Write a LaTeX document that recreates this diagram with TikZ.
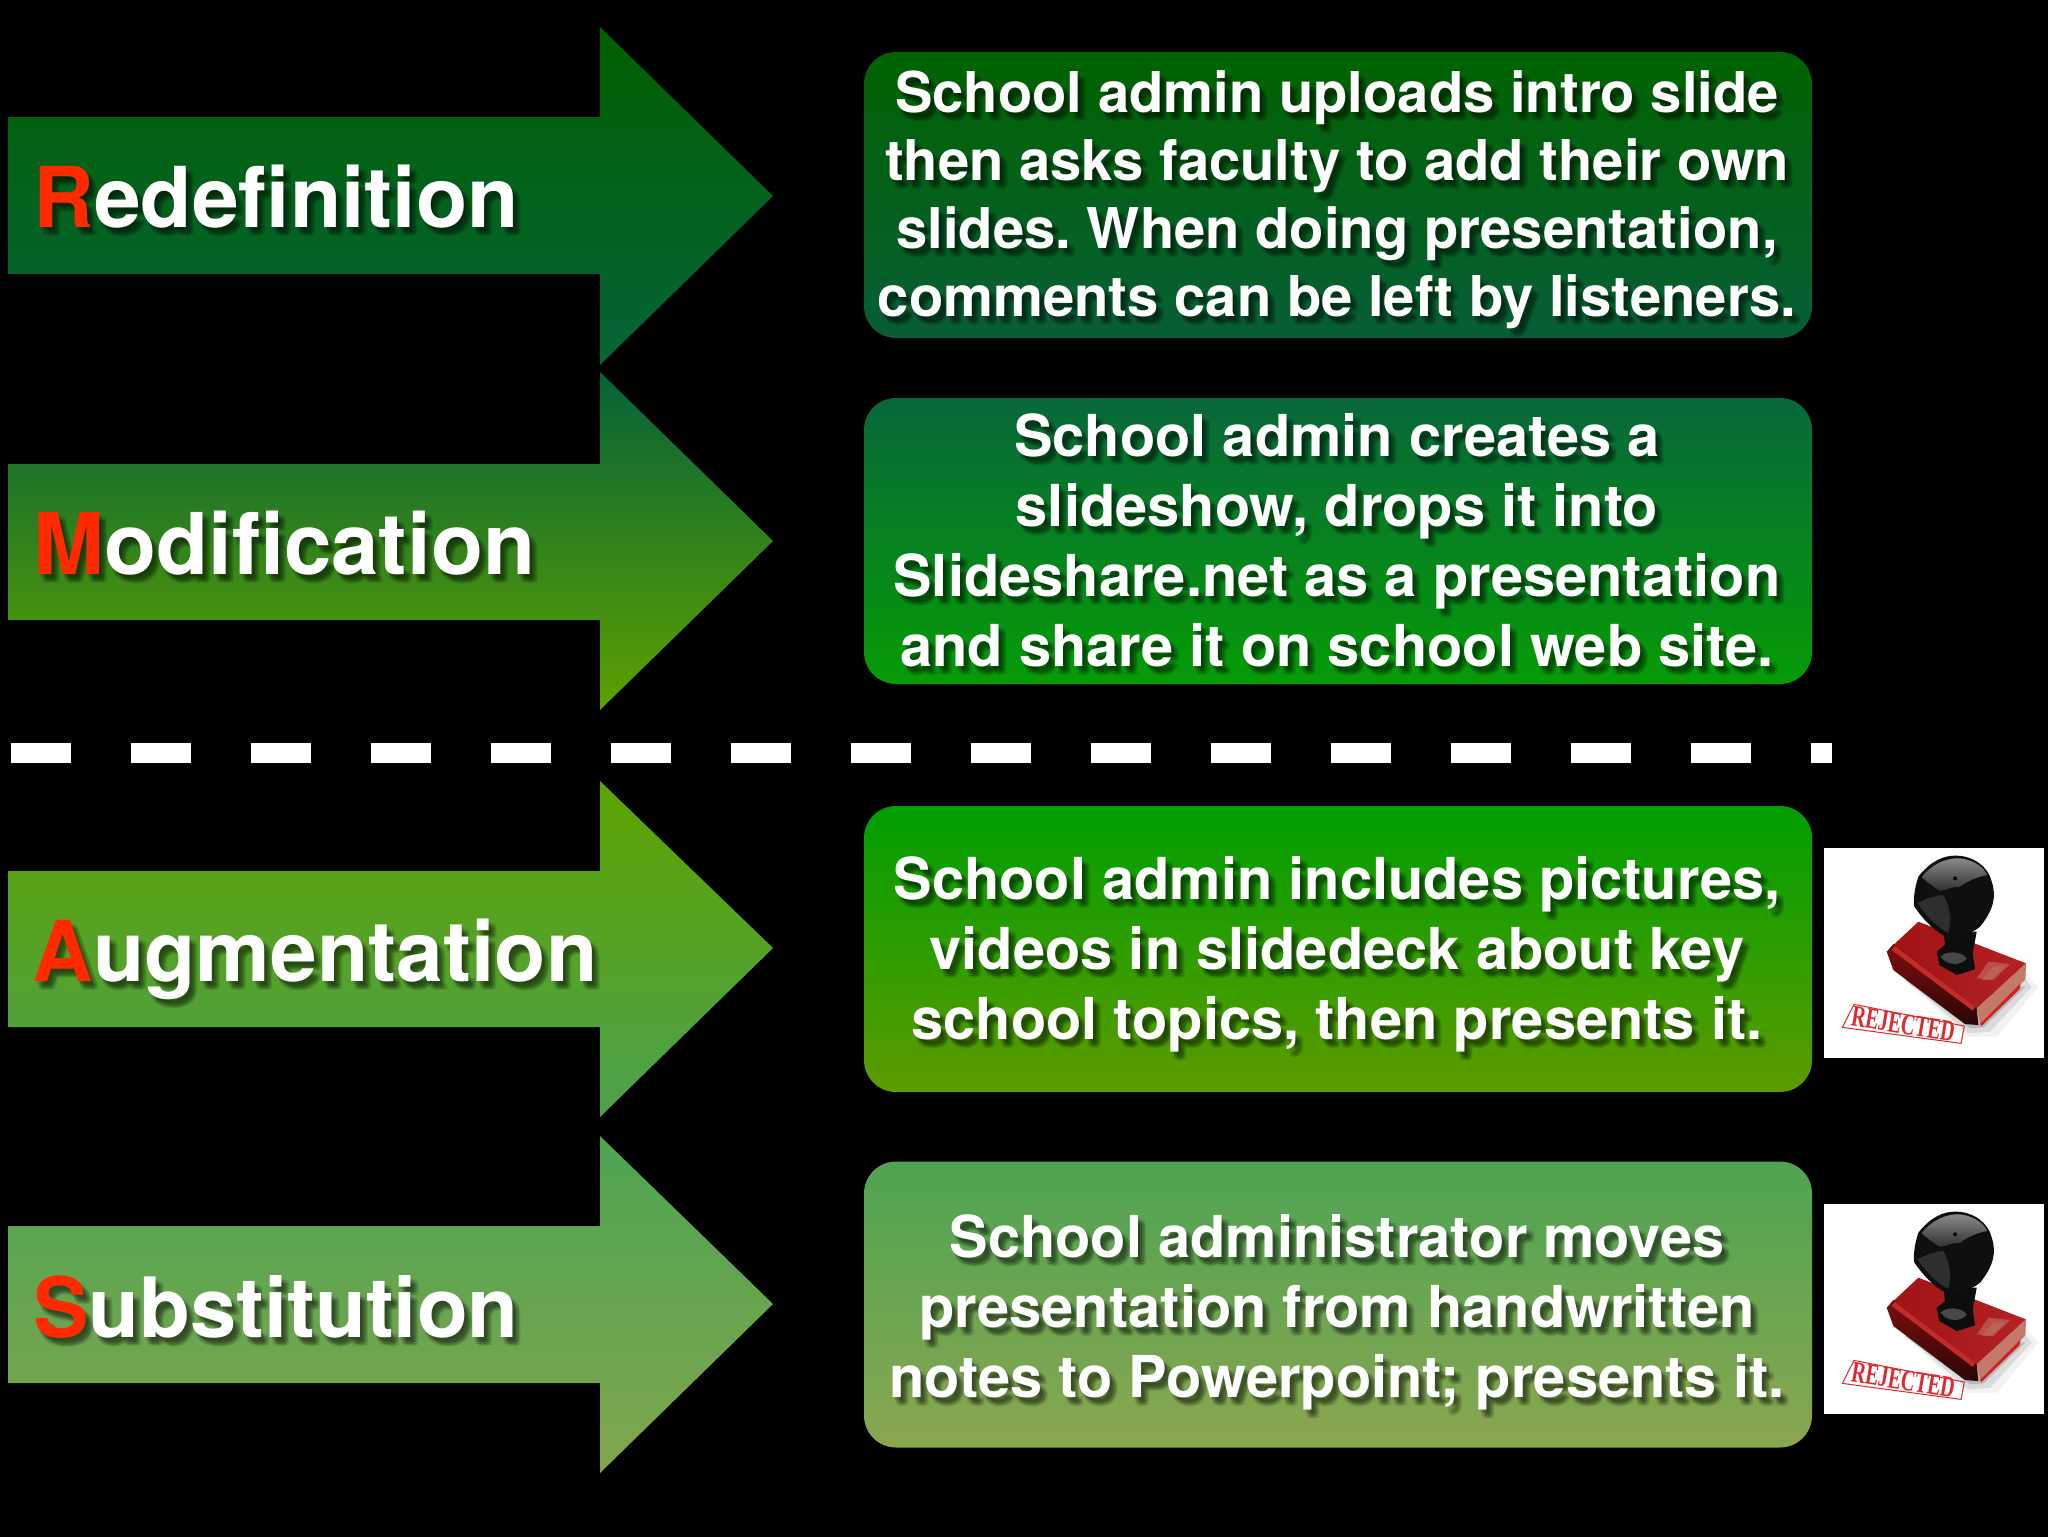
\documentclass[tikz,border=0pt]{standalone}
\usepackage{fontspec}
\setmainfont{TeX Gyre Heros}[BoldFont=* Bold]
\newfontfamily\stampfont{Liberation Serif}
\usetikzlibrary{shapes.geometric}
\def\fc{redletter}
\frenchspacing
\definecolor{redletter}{HTML}{FF2A00}
\definecolor{aRt}{RGB}{0,96,0}\definecolor{aRb}{RGB}{6,100,56}
\definecolor{aMt}{RGB}{5,98,56}\definecolor{aMb}{RGB}{93,162,0}
\definecolor{aAt}{RGB}{92,164,0}\definecolor{aAb}{RGB}{78,160,78}
\definecolor{aSt}{RGB}{78,164,82}\definecolor{aSb}{RGB}{128,166,78}
\definecolor{bRt}{RGB}{0,99,0}\definecolor{bRb}{RGB}{7,94,54}
\definecolor{bMt}{RGB}{7,104,58}\definecolor{bMb}{RGB}{6,156,6}
\definecolor{bAt}{RGB}{0,158,0}\definecolor{bAb}{RGB}{92,156,0}
\definecolor{bSt}{RGB}{78,164,82}\definecolor{bSb}{RGB}{138,166,80}
\definecolor{stampTopL}{HTML}{A01414}
\definecolor{stampTopR}{HTML}{B42222}
\definecolor{stampFace}{HTML}{7E0E0E}
\definecolor{stampEnd}{HTML}{C4796A}
\definecolor{stampLedge}{HTML}{D02020}
\definecolor{stampEdge}{HTML}{C42A2A}
\definecolor{stampInk}{HTML}{DC2A30}
\newcommand\rl[1]{\textcolor{\fc}{#1}}
\newcommand\lst{\rule[-7pt]{0pt}{27pt}}
\newcommand\shadowed[5]{% style, x, y, name, text
  \begingroup\def\fc{black}%
  \foreach \dx/\dy [count=\k] in {2/3,4/5,6/7,7/5,3/7,5/9,8/8}{%
    \node[#1,text=black,opacity=.10] (#4s\k) at ({#2+\dx},{#3+\dy}) {#5};}%
  \endgroup
  \node[#1] (#4) at (#2,#3) {#5};}
\newcommand\tf[1]{\fontsize{#1}{44}\selectfont\bfseries}
\tikzset{
  x=.5pt,y=-.5pt,
  titlelabel/.style={anchor=base west,inner sep=0pt,text=white},
  bodytext/.style={anchor=center,inner sep=0pt,text=white,align=center},
  infobox/.style={draw=none,rounded corners=16pt,minimum width=474pt,minimum height=143pt,inner sep=0pt,outer sep=0pt},
  divider/.style={draw=white,line width=10pt,dash pattern=on 30pt off 30pt},
  stampimg/.pic={
    \begin{scope}[x=.1667pt,y=-.1667pt,shift={(-132,-84)}]
    \fill[white] (132,84) rectangle (792,713);
    \fill[black!5] (330,440) -- (560,650) -- (650,650) -- (775,500) -- (700,420) -- cycle;
    \fill[black!14] (345,450) -- (565,640) -- (630,635) -- (755,500) -- (695,430) -- cycle;
    \fill[black!28] (375,480) -- (570,625) -- (610,622) -- (735,500) -- cycle;
    \path[left color=stampTopL,right color=stampTopR] (415,305) -- (738,430) -- (590,565) -- (340,375) -- cycle;
    \path[top color=stampFace,bottom color=black!65!stampFace] (320,395) -- (340,372) -- (590,565) -- (595,615) -- (555,612) -- (340,450) -- cycle;
    \fill[stampEnd] (590,565) -- (738,430) -- (736,478) -- (600,612) -- cycle;
    \fill[stampLedge] (600,612) -- (722,490) -- (718,508) -- (604,618) -- cycle;
    \fill[stampEdge] (335,390) -- (345,378) -- (585,560) -- (578,572) -- cycle;
    \fill[stampEnd,opacity=.55] (590,475) -- (625,425) -- (690,432) -- (640,480) -- cycle;
    \fill[stampEnd,opacity=.45] (605,480) -- (640,440) -- (675,440) -- (630,480) -- cycle;
    \fill[black!95] (490,335) -- (590,335) -- (578,400) -- (585,448) -- (530,465) -- (478,435) -- (470,395) -- (495,375) -- cycle;
    \fill[black!72] (482,410) .. controls (495,392) and (545,392) .. (560,415) .. controls (545,438) and (500,438) .. (482,410) -- cycle;
    \fill[black!94] (415,170) .. controls (450,125) and (490,105) .. (530,107) .. controls (580,108) and (625,140) .. (635,185) .. controls (650,230) and (640,270) .. (600,320) .. controls (570,345) and (530,352) .. (500,350) .. controls (470,340) and (430,300) .. (402,258) .. controls (400,230) and (405,200) .. (415,170) -- cycle;
    \path[top color=black!45,bottom color=black!82] (425,172) .. controls (450,135) and (500,112) .. (540,115) .. controls (580,120) and (610,140) .. (622,165) .. controls (590,170) and (560,185) .. (540,200) .. controls (510,200) and (490,215) .. (478,212) .. controls (460,200) and (440,185) .. (425,172) -- cycle;
    \fill[black!82] (412,250) .. controls (440,235) and (470,225) .. (490,225) .. controls (510,260) and (515,300) .. (505,338) .. controls (475,325) and (440,290) .. (412,250) -- cycle;
    \fill[black] (525,175) circle (6);
    \draw[stampInk,line width=.5pt] (222,553) -- (553,618) -- (543,670) -- (187,622) -- cycle;
    \node[inner sep=0pt,rotate=-9.5,xscale=.65,text=stampInk,font=\stampfont\fontsize{15}{16}\selectfont\bfseries] (stamplabel) at (370,612) {REJECTED};
    \end{scope}
  },
}
\begin{document}
\begin{tikzpicture}
\useasboundingbox (0,0) rectangle (2048,1536);
\fill[black] (-8,-8) rectangle (2056,1544);
\path[top color=aRt,bottom color=aRb]
  (8,117) -- (600,117) -- (600,27) -- (773,196) -- (600,365) -- (600,274) -- (8,274) -- cycle;
\path[top color=aMt,bottom color=aMb]
  (8,464) -- (600,464) -- (600,372) -- (773,541) -- (600,710) -- (600,620) -- (8,620) -- cycle;
\path[top color=aAt,bottom color=aAb]
  (8,871) -- (600,871) -- (600,781) -- (773,948) -- (600,1117) -- (600,1027) -- (8,1027) -- cycle;
\path[top color=aSt,bottom color=aSb]
  (8,1226) -- (600,1226) -- (600,1136) -- (773,1304) -- (600,1473) -- (600,1383) -- (8,1383) -- cycle;
\shadowed{titlelabel,font=\tf{42}}{33}{227}{tR}{\rl{R}edefinition}
\shadowed{titlelabel,font=\tf{42.6}}{33}{574}{tM}{\rl{M}odification}
\shadowed{titlelabel,font=\tf{42}}{32}{981}{tA}{\rl{A}ugmentation}
\shadowed{titlelabel,font=\tf{41.6}}{33}{1337}{tS}{\rl{S}ubstitution}
\coordinate (dl) at (11,753);
\coordinate (dr) at (1832,753);
\draw[divider] (dl) -- (dr);
\node[infobox,top color=bRt,bottom color=bRb] (bR) at (1338,195) {};
\node[infobox,top color=bMt,bottom color=bMb] (bM) at (1338,541) {};
\node[infobox,top color=bAt,bottom color=bAb] (bA) at (1338,949) {};
\node[infobox,top color=bSt,bottom color=bSb] (bS) at (1338,1304.5) {};
\shadowed{bodytext,font=\fontsize{28.1}{34}\selectfont\bfseries}{1337}{201}{xR}{\lst School admin uploads intro slide\\\lst then asks faculty to add their own\\\lst slides. When doing presentation,\\\lst comments can be left by listeners.}
\renewcommand\lst{\rule[-8pt]{0pt}{27pt}}
\shadowed{bodytext,font=\fontsize{28.9}{35}\selectfont\bfseries}{1337}{547.5}{xM}{\lst School admin creates a\\\lst slideshow, drops it into\\\lst Slideshare.net as a presentation\\\lst and share it on school web site.}
\shadowed{bodytext,font=\fontsize{28.9}{35}\selectfont\bfseries}{1337}{955.5}{xA}{\lst School admin includes pictures,\\\lst videos in slidedeck about key\\\lst school topics, then presents it.}
\shadowed{bodytext,font=\fontsize{28.9}{35}\selectfont\bfseries}{1337}{1313.5}{xS}{\lst School administrator moves\\\lst presentation from handwritten\\\lst notes to Powerpoint; presents it.}
\pic at (1824,848) {stampimg};
\pic at (1824,1204) {stampimg};
\end{tikzpicture}
\end{document}
